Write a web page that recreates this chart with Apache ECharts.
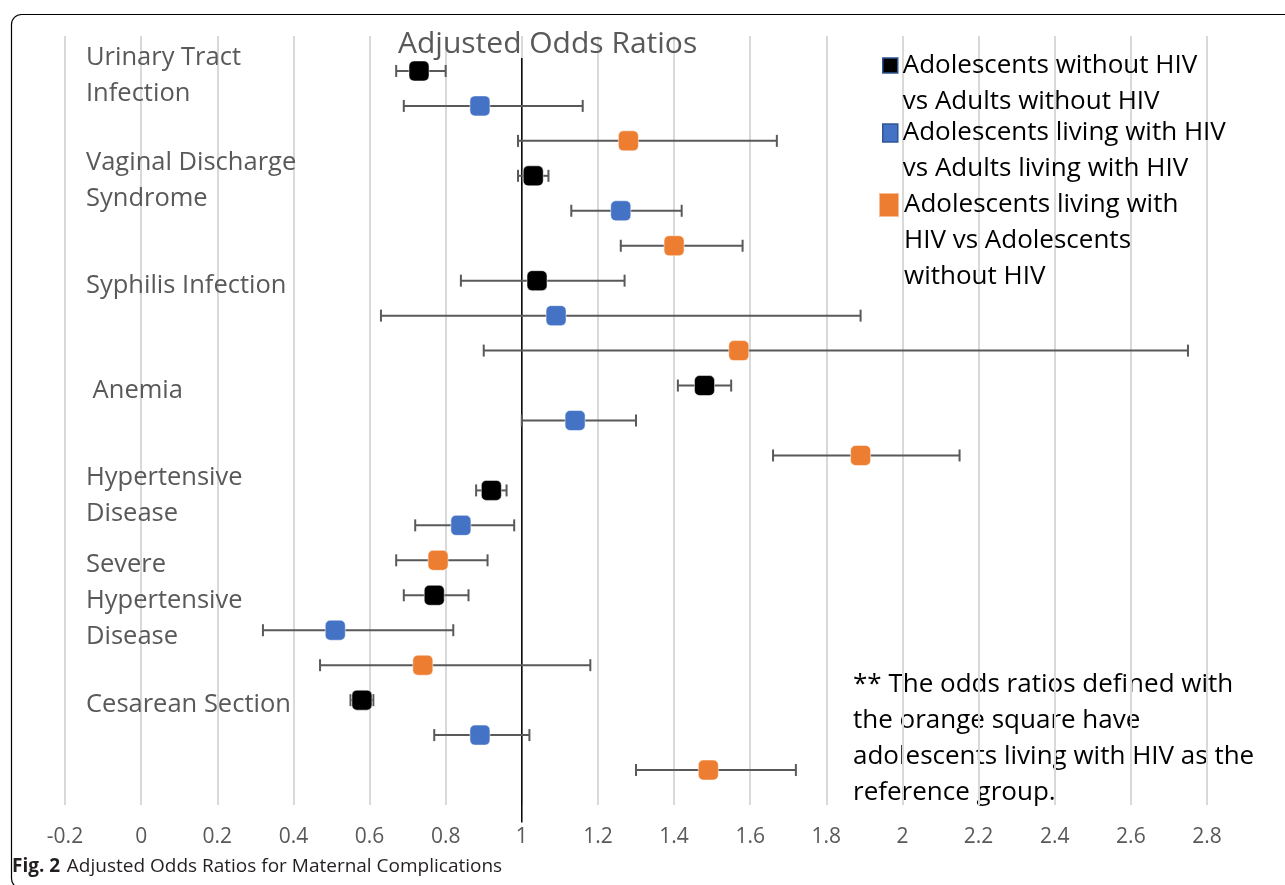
<!DOCTYPE html>
<html>
<head>
<meta charset="utf-8">
<script src="https://cdn.jsdelivr.net/npm/echarts@6/dist/echarts.min.js"></script>
<style>html,body{margin:0;padding:0;background:#fff;}#c{width:1285px;height:885px;}</style>
</head>
<body>
<div id="c"></div>
<script>
const categories = ['Urinary Tract\nInfection', 'Vaginal Discharge\nSyndrome', 'Syphilis Infection', ' Anemia', 'Hypertensive\nDisease', 'Severe\nHypertensive\nDisease', 'Cesarean Section'];
const seriesNames = ['Adolescents without HIV vs Adults without HIV', 'Adolescents living with HIV vs Adults living with HIV', 'Adolescents living with HIV vs Adolescents without HIV'];
const legendLabels = ['Adolescents without HIV\nvs Adults without HIV', 'Adolescents living with HIV\nvs Adults living with HIV', 'Adolescents living with\nHIV vs Adolescents\nwithout HIV'];
// odds ratios and 95% CI (low, high) per category
const orNoHiv   = [0.73, 1.03, 1.04, 1.48, 0.92, 0.77, 0.58];
const loNoHiv   = [0.67, 0.99, 0.84, 1.41, 0.88, 0.69, 0.55];
const hiNoHiv   = [0.80, 1.07, 1.27, 1.55, 0.96, 0.86, 0.61];
const orHiv     = [0.89, 1.26, 1.09, 1.14, 0.84, 0.51, 0.89];
const loHiv     = [0.69, 1.13, 0.63, 1.00, 0.72, 0.32, 0.77];
const hiHiv     = [1.16, 1.42, 1.89, 1.30, 0.98, 0.82, 1.02];
const orAdol    = [1.28, 1.40, 1.57, 1.89, 0.78, 0.74, 1.49];
const loAdol    = [0.99, 1.26, 0.90, 1.66, 0.67, 0.47, 1.30];
const hiAdol    = [1.67, 1.58, 2.75, 2.15, 0.91, 1.18, 1.72];
const xTicks = { min: -0.2, max: 2.8, step: 0.2 };
const referenceLine = 1;
const noteText = '** The odds ratios defined with\nthe orange square have\nadolescents living with HIV as the\nreference group.';
const captionBold = 'Fig. 2';
const captionText = 'Adjusted Odds Ratios for Maternal Complications';
const titleText = 'Adjusted Odds Ratios';

const colors = ['#000000', '#4472C4', '#ED7D31'];
const groups = [[orNoHiv, loNoHiv, hiNoHiv], [orHiv, loHiv, hiHiv], [orAdol, loAdol, hiAdol]];
const FONT = 'Open Sans';
const nRows = categories.length * 3;

function rowOf(c, g) { return c * 3 + g + 1; }

const series = [];
// reference line at OR = 1
series.push({
  type: 'line', silent: true, symbol: 'none', clip: false, z: 3,
  lineStyle: { color: '#000', width: 1.5 },
  data: [[referenceLine, 0.63], [referenceLine, nRows + 1.5]]
});
groups.forEach((grp, g) => {
  const [or, lo, hi] = grp;
  series.push({
    type: 'custom', silent: true, z: 4,
    data: categories.map((_, c) => [lo[c], hi[c], rowOf(c, g)]),
    encode: { x: [0, 1], y: 2 },
    renderItem: function (params, api) {
      const p1 = api.coord([api.value(0), api.value(2)]);
      const p2 = api.coord([api.value(1), api.value(2)]);
      const h = 6;
      const st = { stroke: '#595959', lineWidth: 2 };
      return { type: 'group', children: [
        { type: 'line', shape: { x1: p1[0], y1: p1[1], x2: p2[0], y2: p2[1] }, style: st },
        { type: 'line', shape: { x1: p1[0], y1: p1[1] - h, x2: p1[0], y2: p1[1] + h }, style: st },
        { type: 'line', shape: { x1: p2[0], y1: p2[1] - h, x2: p2[0], y2: p2[1] + h }, style: st }
      ]};
    }
  });
  series.push({
    name: seriesNames[g], type: 'scatter', z: 5,
    symbol: 'roundRect', symbolSize: 20,
    itemStyle: { color: colors[g], opacity: 1, borderColor: 'rgba(255,255,255,0.5)', borderWidth: 1 },
    data: categories.map((_, c) => [or[c], rowOf(c, g)])
  });
});

// legend text: leading blank lines put the first text line level with the icon
const legendCfg = [
  { top: 11.5, left: 882, w: 15, h: 15, style: { color: '#000', borderColor: '#2F5597', borderWidth: 1.5 } },
  { top: 79, left: 882, w: 15, h: 18, style: { color: '#4472C4', borderColor: '#2F5597', borderWidth: 1.5 } },
  { top: 115, left: 878, w: 20, h: 24, style: { color: '#ED7D31' } }
];
const legends = legendCfg.map((l, i) => ({
  show: true, orient: 'vertical', left: l.left, top: l.top, padding: 0,
  itemWidth: l.w, itemHeight: l.h, selectedMode: false, icon: 'rect',
  data: [{ name: seriesNames[i], icon: 'rect', itemStyle: l.style }],
  formatter: () => {
    const n = legendLabels[i].split('\n').length;
    return '\n'.repeat(n - 1) + legendLabels[i];
  },
  textStyle: { fontFamily: FONT, fontSize: 26, lineHeight: 36, color: '#000' }
}));

const chart = echarts.init(document.getElementById('c'), null, { renderer: 'canvas' });
chart.setOption({
  animation: false,
  backgroundColor: '#fff',
  title: {
    text: titleText, left: 398, top: 26, padding: 0,
    textStyle: { fontFamily: FONT, fontSize: 30, lineHeight: 36, fontWeight: 'normal', color: '#595959' }
  },
  legend: legends,
  grid: { left: 65, right: 78, top: 36, bottom: 80 },
  xAxis: {
    type: 'value', min: xTicks.min, max: xTicks.max, interval: xTicks.step,
    axisLine: { show: false }, axisTick: { show: false },
    splitLine: { show: true, lineStyle: { color: '#D9D9D9', width: 2 } },
    axisLabel: {
      margin: 22, fontFamily: FONT, fontSize: 21, color: '#595959',
      formatter: v => String(Number(v.toFixed(1)))
    }
  },
  yAxis: {
    type: 'value', min: 0, max: nRows + 1, interval: 1, inverse: true,
    axisLine: { show: false }, axisTick: { show: false }, splitLine: { show: false },
    axisLabel: {
      inside: true, margin: 21, align: 'left', color: '#595959',
      showMinLabel: true, showMaxLabel: true,
      rich: {
        s: { fontSize: 6, lineHeight: 10 },
        a: { fontFamily: FONT, fontSize: 25.5, lineHeight: 36, color: '#595959' }
      },
      formatter: v => {
        const r = Math.round(v) - 1;
        if (r >= 0 && r % 3 === 0 && r / 3 < categories.length) {
          return '{s| }\n' + categories[r / 3].split('\n').map(t => '{a|' + t + '}').join('\n');
        }
        return '';
      }
    }
  },
  graphic: [
    { type: 'rect', left: 9, top: 12, silent: true, z: -10,
      shape: { width: 1320, height: 874, r: 10 },
      style: { fill: 'none', stroke: '#000', lineWidth: 1.2 } },
    { type: 'text', left: 853, top: 667, silent: true,
      style: { text: noteText, fontFamily: FONT, fontSize: 26, lineHeight: 36, fill: '#000' } },
    { type: 'text', left: 12, top: 857, silent: true,
      style: {
        text: '{b|' + captionBold + '}  {n|' + captionText + '}',
        rich: {
          b: { fontFamily: FONT, fontSize: 19, fontWeight: 'bold', fill: '#231F20' },
          n: { fontFamily: FONT, fontSize: 19, fill: '#231F20' }
        }
      } }
  ],
  series: series
});
</script>
</body>
</html>
